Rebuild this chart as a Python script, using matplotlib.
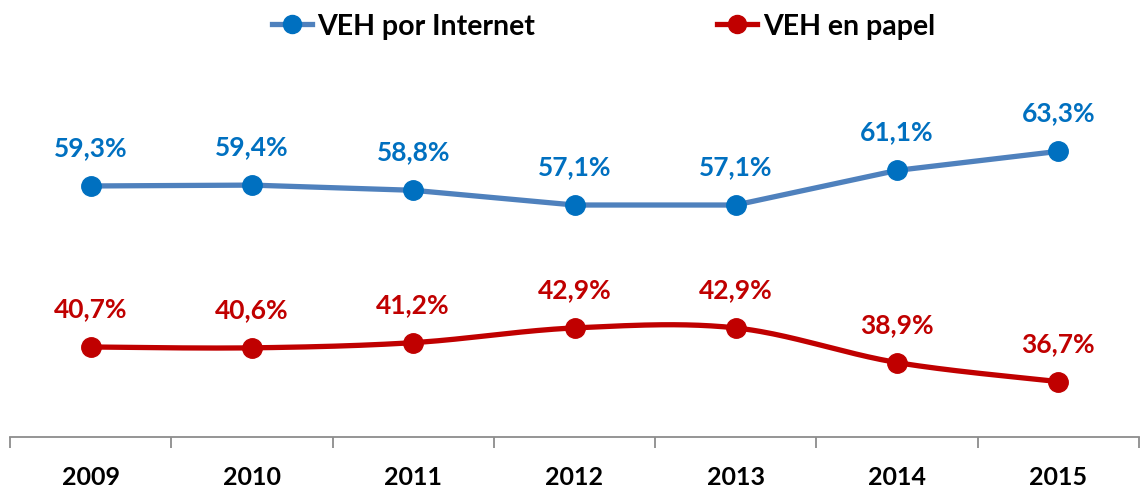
import numpy as np
import matplotlib
matplotlib.use("Agg")
import matplotlib.pyplot as plt
from matplotlib.lines import Line2D

years = ["2009", "2010", "2011", "2012", "2013", "2014", "2015"]
internet = [59.3, 59.4, 58.8, 57.1, 57.1, 61.1, 63.3]
papel = [40.7, 40.6, 41.2, 42.9, 42.9, 38.9, 36.7]
series_names = ["VEH por Internet", "VEH en papel"]

FONT = ["Lato", "DejaVu Sans"]
plt.rcParams["font.family"] = FONT


def smooth(xs, ys, n=40):
    # Catmull-Rom spline (like Excel's smoothed line)
    xs = np.asarray(xs, float)
    ys = np.asarray(ys, float)
    px = np.concatenate([[xs[0]], xs, [xs[-1]]])
    py = np.concatenate([[ys[0]], ys, [ys[-1]]])
    ox, oy = [], []
    t = np.linspace(0, 1, n)
    for i in range(1, len(px) - 2):
        p0x, p1x, p2x, p3x = px[i - 1], px[i], px[i + 1], px[i + 2]
        p0y, p1y, p2y, p3y = py[i - 1], py[i], py[i + 1], py[i + 2]
        c1x = p1x + (p2x - p0x) / 6
        c1y = p1y + (p2y - p0y) / 6
        c2x = p2x - (p3x - p1x) / 6
        c2y = p2y - (p3y - p1y) / 6
        bx = (1 - t) ** 3 * p1x + 3 * (1 - t) ** 2 * t * c1x + 3 * (1 - t) * t ** 2 * c2x + t ** 3 * p2x
        by = (1 - t) ** 3 * p1y + 3 * (1 - t) ** 2 * t * c1y + 3 * (1 - t) * t ** 2 * c2y + t ** 3 * p2y
        ox.extend(bx)
        oy.extend(by)
    return np.array(ox), np.array(oy)


W, H = 1143, 489
fig = plt.figure(figsize=(W / 100, H / 100), dpi=100)
ax = fig.add_axes([10 / W, (H - 438) / H, 1129 / W, 438 / H])

x = np.arange(len(years))
specs = [
    (internet, "#4F81BD", "#0070C0", "#0070C0", False),
    (papel, "#C00000", "#C00000", "#C00000", True),
]
for vals, lc, mc, tc, do_smooth in specs:
    if do_smooth:
        sx, sy = smooth(x, vals)
    else:
        sx, sy = x, vals
    ax.plot(sx, sy, color=lc, lw=3.8, solid_capstyle="round", solid_joinstyle="round", zorder=2)
    ax.plot(x, vals, "o", color=mc, ms=14, zorder=3)
    for xi, v in zip(x, vals):
        ax.annotate(f"{v:.1f}%".replace(".", ","), (xi, v), xytext=(0, 28),
                    textcoords="offset points", ha="center", va="center",
                    fontsize=19, fontweight="bold", color=tc)

ax.set_xlim(-0.5, len(years) - 0.5)
ax.set_ylim(30.3, 80.9)
for s in ["left", "right", "top"]:
    ax.spines[s].set_visible(False)
ax.spines["bottom"].set_color("#8C8C8C")
ax.spines["bottom"].set_linewidth(1.3)
ax.set_yticks([])
ax.set_xticks(np.arange(-0.5, len(years) + 0.5, 1))
ax.set_xticklabels([])
ax.tick_params(axis="x", direction="out", length=8, width=1.3, color="#8C8C8C")
for xi, lab in zip(x, years):
    ax.text(xi, -0.09, lab, transform=ax.get_xaxis_transform(), ha="center", va="center",
            fontsize=18, fontweight="bold", color="black")

handles = [
    Line2D([], [], color="#4F81BD", lw=3.8, marker="o", ms=13, mfc="#0070C0", mec="#0070C0"),
    Line2D([], [], color="#C00000", lw=3.8, marker="o", ms=13, mfc="#C00000", mec="#C00000"),
]
fig.legend(handles, series_names, loc="center", bbox_to_anchor=(0.528, 1 - 27 / H), ncol=2,
           frameon=False, prop={"weight": "bold", "size": 20.5}, handlelength=1.4,
           handletextpad=0.2, columnspacing=6.4)

fig.savefig("out.png", dpi=100)
